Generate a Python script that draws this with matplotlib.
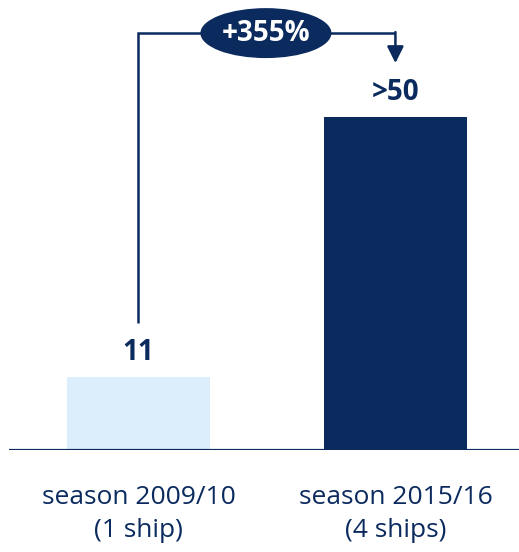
import matplotlib.pyplot as plt
from matplotlib.patches import Ellipse

plt.rcParams['font.family'] = ['Open Sans', 'DejaVu Sans']

categories = ['season 2009/10\n(1 ship)', 'season 2015/16\n(4 ships)']
values = [11, 50]
value_labels = ['11', '>50']
growth_label = '+355%'

navy = '#0b2a5e'
light = '#dcedfc'

fig = plt.figure(figsize=(5.19, 5.52), dpi=100, facecolor='white')
ax = fig.add_axes([9 / 519, 102 / 552, 510 / 519, 450 / 552])

x = [0, 1]
ax.bar(x, values, width=0.556, color=[light, navy])
ax.set_xlim(-0.504, 1.481)
ax.set_ylim(0, 67.57)

for xi, v, lab in zip(x, values, value_labels):
    ax.annotate(lab, (xi, v), xytext=(0, 7), textcoords='offset points',
                ha='center', va='bottom', fontsize=20, fontweight='bold', color=navy)

# growth bracket
y_top = 62.6
ax.plot([x[0], x[0], x[1]], [values[0] + 8.1, y_top, y_top], color=navy, lw=1.8,
        solid_capstyle='butt', solid_joinstyle='miter', clip_on=False)
ax.annotate('', xy=(x[1], y_top - 4.5), xytext=(x[1], y_top + 0.15),
            arrowprops=dict(arrowstyle='-|>,head_length=1.0,head_width=0.5',
                            color=navy, lw=1.8, shrinkA=0, shrinkB=0))
ax.add_patch(Ellipse((0.496, y_top), 0.51, 7.5, facecolor=navy, edgecolor='none',
                     clip_on=False, zorder=3))
ax.text(0.496, y_top, growth_label, ha='center', va='center', fontsize=20,
        fontweight='bold', color='white', zorder=4)

ax.axhline(0, color=navy, lw=2.3)
for s in ax.spines.values():
    s.set_visible(False)
ax.set_yticks([])
ax.set_xticks(x)
ax.set_xticklabels(categories, fontsize=19, color=navy, linespacing=1.45)
ax.tick_params(axis='x', length=0, pad=25)

fig.savefig('out.png', dpi=100)
